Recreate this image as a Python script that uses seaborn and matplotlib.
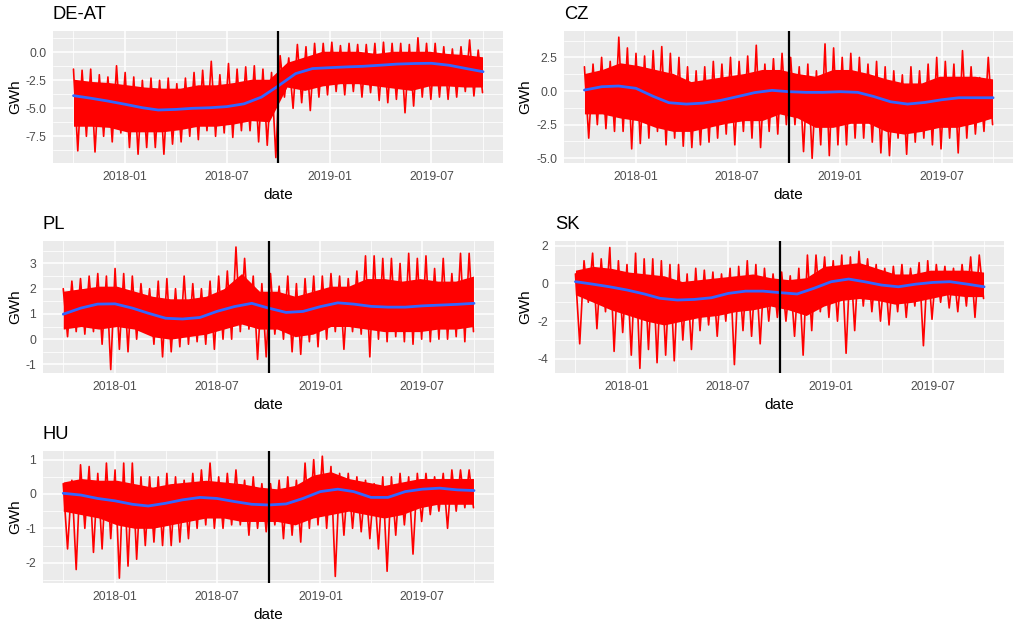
import numpy as np
import pandas as pd
import matplotlib
matplotlib.use('Agg')
import matplotlib.pyplot as plt
import matplotlib.dates as mdates
from matplotlib.ticker import MultipleLocator, FixedLocator, FixedFormatter
import seaborn as sns

# hourly series summarised by hand from the chart, GWh
# spikes: half-month high / low extremes; core: monthly dense band edges
spike_dates = pd.date_range('2017-10-01', '2019-09-30', periods=96)
core_dates = pd.date_range('2017-10-01', '2019-09-30', periods=24)
month_dates = pd.date_range('2017-10-01', '2019-10-01', freq='MS')
cut_date = pd.Timestamp('2018-10-01')

de_hi = [-1.5, -1.6, -1.5, -2.0, -2.2, -1.2, -1.8, -2.2, -2.5, -2.3, -2.5, -2.3,
         -2.8, -2.3, -1.8, -1.6, -0.8, -2.0, -1.0, -1.5, -1.3, -1.2, -1.5, -1.8,
         -0.3, -0.5, 0.7, 0.5, 0.8, 0.8, 0.9, 0.6, 0.8, 0.7, 0.7, 0.8,
         0.9, 0.8, 0.8, 0.7, 1.3, 0.8, 0.8, 0.5, 0.3, 0.5, 1.1, 0.2]
de_lo = [-8.8, -7.5, -8.9, -7.5, -8.0, -7.2, -8.5, -9.1, -8.5, -8.5, -9.1, -8.2,
         -8.0, -7.5, -7.8, -7.0, -7.5, -7.2, -7.6, -7.0, -7.0, -8.0, -8.3, -9.4,
         -4.0, -5.0, -4.5, -5.2, -4.0, -3.8, -3.5, -3.8, -3.5, -4.0, -3.6, -4.3,
         -4.5, -4.2, -5.4, -4.8, -4.0, -4.2, -4.0, -4.2, -4.0, -3.5, -3.9, -3.6]
de_core_hi = [-2.4, -2.6, -2.7, -2.9, -3.1, -3.2, -3.2, -2.9, -2.9, -2.7, -2.4, -2.4,
              -0.9, -0.4, 0.1, 0.1, 0.1, -0.1, 0.1, 0.1, 0.1, -0.1, -0.2, -0.4]
de_core_lo = [-6.6, -6.6, -6.7, -7.1, -7.1, -7.1, -6.9, -6.6, -6.6, -6.4, -6.1, -6.2,
              -3.1, -3.4, -3.0, -2.8, -2.8, -3.0, -3.2, -3.4, -3.0, -3.0, -3.1, -3.1]
de_smooth = [-3.87, -4.1, -4.35, -4.64, -4.95, -5.15, -5.1, -5.0, -4.95, -4.85, -4.6, -4.0,
             -3.0, -1.9, -1.45, -1.37, -1.3, -1.25, -1.15, -1.05, -1.0, -0.98, -1.15, -1.45, -1.73]

cz_hi = [1.8, 2.0, 2.5, 2.2, 4.0, 3.2, 2.8, 2.6, 3.0, 3.3, 2.8, 2.5,
         1.8, 1.5, 1.8, 2.2, 2.0, 2.5, 2.2, 2.6, 3.4, 2.0, 2.4, 2.8,
         2.5, 1.8, 2.0, 1.5, 3.5, 3.2, 2.5, 2.8, 2.5, 2.0, 2.2, 1.8,
         1.5, 1.2, 1.8, 1.5, 2.0, 2.5, 2.2, 2.0, 3.0, 1.8, 1.0, 2.5]
cz_lo = [-3.5, -2.5, -2.8, -3.0, -3.0, -4.3, -3.9, -3.5, -3.0, -4.0, -3.5, -4.1,
         -4.2, -4.0, -3.8, -3.5, -3.2, -4.0, -3.0, -3.5, -4.2, -3.0, -3.2, -2.5,
         -2.5, -4.5, -5.0, -4.0, -4.8, -4.0, -4.0, -3.5, -3.5, -3.8, -4.6, -4.8,
         -3.5, -4.7, -3.8, -3.5, -4.0, -4.3, -3.5, -4.6, -3.5, -3.2, -3.0, -2.5]
cz_core_hi = [1.3, 1.6, 2.1, 1.9, 1.6, 1.3, 0.7, 0.9, 1.1, 1.3, 1.6, 1.6,
              1.3, 1.1, 1.6, 1.6, 1.3, 0.9, 0.6, 0.6, 1.1, 1.1, 1.1, 0.9]
cz_core_lo = [-1.7, -1.7, -2.0, -2.2, -2.7, -3.0, -3.0, -2.7, -2.4, -2.2, -2.2, -1.7,
              -2.0, -2.7, -2.7, -2.4, -2.4, -3.0, -3.2, -3.0, -2.7, -2.7, -2.4, -2.0]
cz_smooth = [0.07, 0.32, 0.37, 0.2, -0.4, -0.87, -0.97, -0.9, -0.7, -0.42, -0.12, 0.05,
             -0.05, -0.1, -0.1, -0.05, -0.1, -0.4, -0.8, -0.97, -0.85, -0.65, -0.5, -0.5, -0.5]

pl_hi = [2.0, 2.3, 2.4, 2.5, 2.6, 2.5, 2.8, 2.6, 2.5, 2.2, 2.0, 2.3,
         2.4, 2.0, 2.5, 2.2, 2.0, 2.3, 2.5, 2.7, 3.65, 3.2, 2.5, 2.2,
         2.6, 2.1, 2.5, 2.2, 2.4, 2.5, 2.5, 2.6, 2.5, 2.4, 2.7, 3.3,
         3.3, 3.2, 3.2, 3.0, 3.4, 3.2, 3.3, 2.8, 3.2, 2.6, 3.4, 3.4]
pl_lo = [0.1, 0.3, 0.2, 0.3, -0.2, -1.2, -0.4, -0.5, 0.0, 0.3, -0.2, -0.7,
         -0.5, -0.3, -0.2, -0.1, -0.2, -0.4, 0.0, 0.0, 0.3, 0.4, -0.8, -0.7,
         0.2, 0.0, -0.5, -0.6, -0.1, -0.3, 0.0, 0.3, -0.4, 0.3, 0.2, -0.7,
         0.0, -0.1, 0.1, -0.1, -0.2, 0.0, -0.1, 0.0, 0.0, 0.1, -0.1, 0.3]
pl_core_hi = [1.9, 2.0, 2.1, 2.1, 1.9, 1.7, 1.6, 1.6, 1.7, 2.0, 2.6, 1.9,
              1.9, 1.7, 1.9, 2.1, 2.1, 2.4, 2.4, 2.3, 2.4, 2.3, 2.3, 2.5]
pl_core_lo = [0.4, 0.5, 0.4, 0.5, 0.4, 0.1, 0.0, 0.1, 0.2, 0.4, 0.6, 0.4,
              0.4, 0.1, 0.2, 0.5, 0.5, 0.4, 0.3, 0.3, 0.3, 0.4, 0.4, 0.5]
pl_smooth = [0.99, 1.23, 1.39, 1.4, 1.23, 1.03, 0.83, 0.8, 0.86, 1.1, 1.29, 1.42,
             1.23, 1.06, 1.1, 1.29, 1.44, 1.39, 1.3, 1.27, 1.27, 1.32, 1.35, 1.38, 1.42]

sk_hi = [0.5, 1.2, 1.6, 1.3, 1.9, 1.2, 1.0, 1.6, 1.3, 1.3, 1.2, 1.0,
         1.0, 0.5, 0.8, 0.7, 0.6, 0.5, 0.8, 0.9, 1.2, 1.0, 0.8, 0.5,
         0.6, 0.4, 0.8, 1.5, 1.5, 1.4, 1.2, 1.5, 1.4, 1.7, 1.3, 1.0,
         0.8, 0.9, 1.0, 0.8, 1.1, 1.2, 1.0, 0.9, 0.8, 1.0, 1.4, 1.5]
sk_lo = [-3.2, -1.0, -2.4, -1.5, -3.6, -2.6, -3.8, -4.5, -3.5, -4.2, -3.8, -4.1,
         -3.0, -3.5, -2.5, -2.2, -2.8, -2.0, -4.3, -2.5, -2.8, -3.2, -2.0, -1.8,
         -2.0, -2.8, -3.8, -2.5, -1.5, -1.8, -2.0, -3.7, -2.5, -1.2, -1.5, -2.0,
         -2.2, -1.5, -1.8, -1.2, -3.3, -1.9, -1.0, -1.3, -1.5, -1.2, -1.8, -0.8]
sk_core_hi = [0.7, 0.9, 0.8, 0.6, 0.5, 0.4, 0.1, 0.2, 0.3, 0.4, 0.5, 0.3,
              0.2, 0.3, 0.9, 1.0, 1.1, 0.8, 0.5, 0.5, 0.7, 0.7, 0.7, 0.6]
sk_core_lo = [-0.6, -1.0, -1.4, -1.7, -2.0, -2.2, -2.0, -1.8, -1.7, -1.5, -1.4, -1.2,
              -1.4, -1.7, -1.2, -0.9, -0.8, -0.9, -1.1, -1.0, -0.8, -0.6, -0.7, -0.7]
sk_smooth = [0.09, -0.04, -0.18, -0.35, -0.56, -0.79, -0.88, -0.85, -0.76, -0.53, -0.41, -0.41,
             -0.49, -0.56, -0.26, 0.09, 0.23, 0.09, -0.09, -0.18, -0.04, 0.05, 0.09, -0.04, -0.18]

hu_hi = [0.3, 0.4, 0.85, 0.8, 0.6, 0.9, 0.7, 0.9, 0.9, 0.5, 0.5, 0.5,
         0.6, 0.5, 0.4, 0.6, 0.7, 0.9, 0.5, 0.6, 0.7, 0.4, 0.5, 0.3,
         0.3, 0.4, 0.5, 0.4, 0.9, 1.0, 1.1, 0.8, 0.6, 0.6, 0.5, 0.4,
         0.3, 0.5, 0.5, 0.6, 0.5, 0.6, 0.6, 0.5, 0.6, 0.7, 0.7, 0.7]
hu_lo = [-1.6, -2.2, -1.0, -1.7, -1.6, -1.3, -2.45, -2.1, -1.9, -1.5, -1.4, -1.5,
         -1.5, -1.4, -1.3, -1.0, -0.9, -1.0, -1.0, -0.9, -0.9, -1.2, -1.0, -1.1,
         -0.9, -1.3, -1.2, -1.4, -1.0, -0.9, -1.0, -2.4, -1.2, -1.0, -1.1, -1.3,
         -1.6, -2.25, -1.2, -0.9, -1.75, -0.8, -0.6, -0.5, -1.0, -0.5, -0.4, -0.4]
hu_core_hi = [0.35, 0.45, 0.4, 0.4, 0.3, 0.2, 0.3, 0.35, 0.4, 0.35, 0.3, 0.2,
              0.15, 0.25, 0.55, 0.65, 0.45, 0.35, 0.25, 0.35, 0.45, 0.45, 0.45, 0.45]
hu_core_lo = [-0.5, -0.6, -0.7, -0.9, -1.0, -1.0, -0.9, -0.8, -0.7, -0.7, -0.8, -0.8,
              -0.8, -0.9, -0.7, -0.6, -0.5, -0.6, -0.7, -0.6, -0.4, -0.3, -0.3, -0.3]
hu_smooth = [0.02, -0.03, -0.13, -0.2, -0.3, -0.35, -0.27, -0.17, -0.1, -0.13, -0.22, -0.3,
             -0.32, -0.29, -0.13, 0.07, 0.14, 0.07, -0.1, -0.1, 0.07, 0.14, 0.17, 0.12, 0.1]

panels = [
    # name, hi, lo, core hi, core lo, smooth, ylim, yticks, labels, box (l, t, r, b px), ylabel x px
    ('DE-AT', de_hi, de_lo, de_core_hi, de_core_lo, de_smooth, (-9.91, 1.93),
     [0, -2.5, -5, -7.5], ['0.0', '-2.5', '-5.0', '-7.5'], (53, 30.7, 503, 163.3), 15),
    ('CZ', cz_hi, cz_lo, cz_core_hi, cz_core_lo, cz_smooth, (-5.37, 4.48),
     [2.5, 0, -2.5, -5], ['2.5', '0.0', '-2.5', '-5.0'], (564, 30.7, 1013, 163.3), 525),
    ('PL', pl_hi, pl_lo, pl_core_hi, pl_core_lo, pl_smooth, (-1.35, 3.90),
     [3, 2, 1, 0, -1], ['3', '2', '1', '0', '-1'], (42.7, 240.7, 494, 373.3), 15),
    ('SK', sk_hi, sk_lo, sk_core_hi, sk_core_lo, sk_smooth, (-4.76, 2.26),
     [2, 0, -2, -4], ['2', '0', '-2', '-4'], (555, 240.7, 1004, 373.3), 525),
    ('HU', hu_hi, hu_lo, hu_core_hi, hu_core_lo, hu_smooth, (-2.60, 1.26),
     [1, 0, -1, -2], ['1', '0', '-1', '-2'], (42.7, 450.7, 494, 583.3), 15),
]

sns.set_theme(style='darkgrid')
plt.rcParams['font.family'] = ['Liberation Sans', 'DejaVu Sans']

W, H = 1023, 630
fig = plt.figure(figsize=(W / 100, H / 100), dpi=100)
fig.patch.set_facecolor('white')

x0 = pd.Timestamp('2017-10-01') - pd.Timedelta(days=36.5)
x1 = pd.Timestamp('2019-09-30') + pd.Timedelta(days=36.5)

for name, hi, lo, core_hi, core_lo, smooth, ylim, yt, ytl, box, ylab_x in panels:
    l, t, r, b = box
    ax = fig.add_axes([l / W, 1 - b / H, (r - l) / W, (b - t) / H])
    ax.set_facecolor('#EBEBEB')
    for s in ax.spines.values():
        s.set_visible(False)

    # zigzag through the extremes: high, low, high, low ...
    zig = np.empty(len(hi) * 2)
    zig[0::2] = hi
    zig[1::2] = lo
    spikes = pd.DataFrame({'date': spike_dates, 'GWh': zig})
    core = pd.DataFrame({'date': core_dates, 'hi': core_hi, 'lo': core_lo})
    sm = pd.DataFrame({'date': month_dates, 'GWh': smooth})

    ax.fill_between(core['date'], core['lo'], core['hi'], color='red', lw=0, zorder=2)
    sns.lineplot(data=spikes, x='date', y='GWh', ax=ax, color='red', lw=1.2, zorder=2)
    sns.lineplot(data=sm, x='date', y='GWh', ax=ax, color='#3366FF', lw=2, zorder=3)
    ax.axvline(cut_date, color='black', lw=1.6, zorder=4)

    ax.set_xlim(x0, x1)
    ax.set_ylim(*ylim)
    ax.xaxis.set_major_locator(mdates.MonthLocator(bymonth=[1, 7]))
    ax.xaxis.set_major_formatter(mdates.DateFormatter('%Y-%m'))
    ax.xaxis.set_minor_locator(mdates.MonthLocator(bymonth=[4, 10]))
    ax.yaxis.set_major_locator(FixedLocator(yt))
    ax.yaxis.set_major_formatter(FixedFormatter(ytl))
    step = abs(yt[0] - yt[1])
    ax.yaxis.set_minor_locator(MultipleLocator(step / 2))

    ax.grid(which='major', color='white', lw=1.1)
    ax.grid(which='minor', color='white', lw=0.55)
    ax.set_axisbelow(True)
    ax.tick_params(which='major', length=2.7, width=0.6, color='#333333',
                   labelsize=8.8, labelcolor='#4D4D4D')
    ax.tick_params(axis='y', which='major', pad=1.9)
    ax.tick_params(axis='x', which='major', pad=3.2)
    ax.tick_params(which='minor', length=0)

    ax.set_xlabel('date', fontsize=11, color='black')
    ax.set_ylabel('GWh', fontsize=11, color='black')
    ax.xaxis.set_label_coords(0.5, -32 / (b - t))
    ax.xaxis.label.set_va('center')
    ax.yaxis.set_label_coords((ylab_x - l) / (r - l), 0.5)
    ax.yaxis.label.set_va('center')
    ax.text(0, 1 + 16 / (b - t), name, transform=ax.transAxes, ha='left', va='center',
            fontsize=13.2, color='black')

fig.savefig('out.png', dpi=100, facecolor='white')
